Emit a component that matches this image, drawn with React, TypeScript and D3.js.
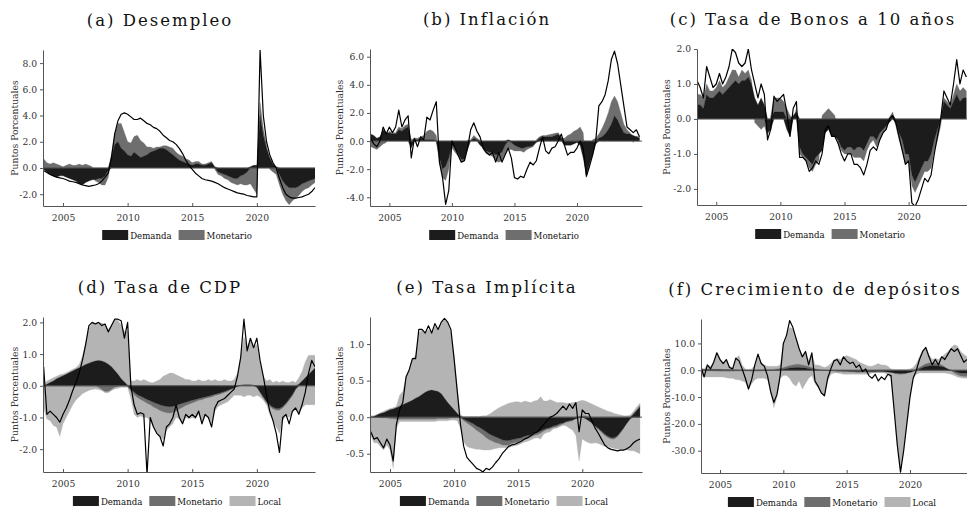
import { useEffect, useRef } from 'react';
import * as d3 from 'd3';

const WIDTH = 967;
const HEIGHT = 511;
const START = 2003.5; // first observation (quarterly)
const STEP = 0.25;
const SERIF = "'DejaVu Serif', 'Liberation Serif', serif";

const LEGEND_2 = ['Demanda', 'Monetario'];
const LEGEND_3 = ['Demanda', 'Monetario', 'Local'];
const YEAR_TICKS = [2005, 2010, 2015, 2020];
const Y_LABEL = 'Puntos Porcentuales';

// (a) Desempleo
const demA = [
  -0.1, -0.3, -0.5, -0.6, -0.7, -0.6, -0.6, -0.7, -0.8, -0.9,
  -1.0, -1.2, -1.3, -1.1, -1.0, -0.9, -0.9, -0.8, -0.8, -0.6,
  -0.2, 0.8, 1.8, 2.0, 1.5, 1.3, 1.0, 0.9, 1.2, 1.0,
  0.8, 0.9, 1.0, 1.2, 1.3, 1.4, 1.5, 1.5, 1.4, 1.2,
  1.0, 0.8, 0.6, 0.5, 0.4, 0.3, 0.2, 0.3, 0.3, 0.2,
  0.2, 0.3, 0.4, 0.1, -0.3, -0.4, -0.5, -0.6, -0.7, -0.8,
  -0.8, -0.6, -0.5, -0.3, 0.1, 0.2, 0.2, 4.0, 2.5, 1.5,
  0.8, 0.3, 0.1, -0.5, -1.0, -1.3, -1.5, -1.5, -1.5, -1.4,
  -1.2, -1.1, -1.0, -0.9, -0.8,
];
const monA = [
  0.7, 0.4, 0.3, 0.4, 0.3, 0.2, 0.1, 0.2, 0.3, 0.2,
  0.2, 0.3, 0.2, 0.3, 0.2, 0.1, -0.1, -0.3, -0.5, -0.7,
  -0.5, 0.3, 0.8, 1.4, 1.9, 1.4, 1.0, 1.0, 1.2, 1.5,
  1.3, 1.0, 0.6, 0.4, 0.2, 0.2, 0.1, 0.2, 0.3, 0.4,
  0.5, 0.4, 0.4, 0.4, 0.3, 0.3, 0.2, 0.2, 0.2, 0.1,
  0.1, 0.1, 0.1, -0.1, -0.2, -0.2, -0.3, -0.3, -0.4, -0.4,
  -0.5, -0.6, -0.8, -1.0, -1.2, -1.6, -2.0, 1.0, 0.5, 0.2,
  -0.1, -0.3, -0.5, -0.8, -1.0, -1.2, -1.3, -1.0, -0.8, -0.7,
  -0.6, -0.5, -0.5, -0.4, -0.3,
];
const lineA = [
  -0.2, -0.35, -0.5, -0.6, -0.7, -0.75, -0.8, -0.9, -1.0, -1.05,
  -1.1, -1.2, -1.3, -1.35, -1.4, -1.35, -1.3, -1.2, -1.0, -0.7,
  -0.4, 0.8, 2.6, 3.6, 4.1, 4.2, 4.1, 3.9, 3.7, 3.7,
  3.8, 3.6, 3.4, 3.3, 3.1, 3.0, 2.8, 2.5, 2.3, 2.1,
  2.0, 1.8, 1.5, 1.1, 0.6, 0.2, -0.1, -0.4, -0.6, -0.8,
  -0.9, -0.95, -1.0, -1.1, -1.2, -1.35, -1.5, -1.6, -1.7, -1.8,
  -1.9, -1.95, -2.0, -2.1, -2.15, -2.2, -2.2, 9.0, 4.0, 2.0,
  1.0, 0.4, 0.0, -0.8, -1.5, -2.0, -2.2, -2.3, -2.3, -2.25,
  -2.2, -2.1, -2.0, -1.8, -1.5,
];

// (b) Inflación
const demB = [
  0.5, 0.4, 0.2, 0.3, 0.8, 0.6, 0.6, 0.5, 0.5, 0.8,
  0.7, 0.9, 1.0, -0.5, 0.1, 0.1, 0.2, 0.1, 0.1, 0.1,
  0.1, 0.0, -1.2, -2.0, -1.8, -1.2, -0.3, -0.5, -0.9, -1.3,
  -1.3, -0.6, 0.0, 0.2, 0.1, -0.3, -0.5, -0.7, -0.8, -0.8,
  -1.0, -0.9, -0.8, -0.3, 0.1, -0.1, -0.3, -0.4, -0.5, -0.5,
  -0.4, -0.4, -0.3, -0.1, 0.2, 0.3, 0.3, 0.3, 0.3, 0.4,
  0.5, 0.2, -0.3, -0.3, -0.3, -0.2, -0.1, -0.3, -1.2, -2.4,
  -1.6, -1.0, -0.2, 0.2, 0.3, 0.5, 0.8, 1.2, 1.8, 1.5,
  1.0, 0.6, 0.5, 0.5, 0.4, 0.3, 0.2,
];
const monB = [
  -0.4, -0.5, -0.6, -0.4, -0.2, -0.1, 0.1, 0.1, 0.1, 0.2,
  0.2, 0.2, 0.2, 0.1, 0.1, 0.1, 0.1, 0.3, 0.6, 0.7,
  0.6, 0.4, -0.3, -0.6, -1.0, -0.8, -0.2, -0.3, -0.2, -0.2,
  -0.1, 0.05, 0.1, 0.2, 0.1, 0.05, -0.1, -0.2, -0.2, -0.3,
  -0.4, -0.6, -0.6, -0.7, -0.6, -0.5, -0.4, -0.3, -0.2, -0.3,
  -0.2, -0.1, -0.1, 0.1, 0.1, 0.1, 0.1, 0.15, 0.2, 0.15,
  0.1, 0.05, 0.2, 0.4, 0.5, 0.7, 0.8, 1.0, 0.6, -0.2,
  -0.2, 0.1, 0.2, 0.3, 0.6, 0.9, 1.2, 1.6, 1.4, 1.3,
  1.0, 0.6, 0.3, 0.1, -0.1, 0.05, 0.1,
];
const lineB = [
  0.2, -0.2, -0.4, 0.0, 1.0, 0.5, 1.0, 0.6, 1.0, 2.2,
  1.0, 1.5, 1.8, -1.2, 0.2, -0.4, 0.3, 0.1, 1.7, 1.5,
  2.2, 2.8, -1.5, -2.6, -4.5, -3.5, 0.0, -0.5, -1.0, -1.5,
  -1.4, -0.5, 0.8, 1.3, 0.7, 0.3, -0.5, -0.8, -1.0, -0.8,
  -1.5, -0.8, -1.5, -1.0, -0.5, -1.2, -2.6, -2.7, -2.5, -2.6,
  -2.0, -1.5, -1.7, -1.4, -0.5, 0.3, -0.7, -0.9, -0.5, -0.4,
  0.0, 0.5, -0.3, -1.0, -0.8, -0.8, -0.5, 0.0, -0.5, -2.5,
  -1.8, -1.0, 0.0, 2.5, 2.8, 3.3, 4.3, 5.8, 6.4, 5.5,
  4.0, 2.5, 1.0, 0.8, 0.6, 0.8, 0.3,
];

// (c) Tasa de Bonos a 10 años
const demC = [
  0.4, 0.4, 0.3, 0.7, 0.6, 0.6, 0.7, 0.8, 0.7, 0.8,
  0.9, 1.0, 1.1, 1.0, 1.1, 1.1, 1.2, 1.0, 0.6, 0.4,
  0.6, 0.4, -0.4, -0.3, 0.2, 0.2, 0.2, 0.2, -0.3, -0.5,
  0.1, 0.2, -0.8, -1.0, -1.1, -1.2, -1.3, -1.1, -1.0, -0.9,
  -0.4, -0.3, -0.5, -0.5, -0.6, -0.8, -0.9, -0.8, -0.8, -0.9,
  -0.8, -0.8, -0.9, -0.7, -0.5, -0.5, -0.6, -0.4, -0.3, -0.2,
  -0.1, 0.1, -0.1, -0.4, -0.6, -1.0, -1.0, -1.6, -1.8, -1.6,
  -1.4, -1.2, -1.2, -1.0, -0.6, -0.3, 0.0, 0.5, 0.4, 0.3,
  0.5, 0.7, 0.5, 0.6, 0.6,
];
const monC = [
  0.3, 0.3, 0.3, 0.3, 0.2, 0.2, 0.2, 0.3, 0.2, 0.2,
  0.3, 0.4, 0.3, 0.2, 0.3, 0.2, 0.2, 0.1, -0.1, -0.2,
  -0.3, -0.2, -0.1, 0.1, 0.4, 0.4, 0.4, 0.3, 0.3, 0.1,
  0.0, 0.1, -0.2, -0.1, -0.1, -0.2, -0.2, -0.2, -0.2, 0.1,
  0.2, 0.3, 0.2, 0.1, -0.1, -0.1, -0.1, -0.2, -0.2, -0.2,
  -0.3, -0.3, -0.3, -0.2, -0.2, -0.1, -0.2, -0.2, -0.1, -0.1,
  0.05, 0.1, -0.1, -0.2, -0.3, -0.3, -0.2, -0.3, -0.3, -0.3,
  -0.3, -0.3, -0.3, -0.4, -0.3, -0.3, -0.2, 0.1, 0.1, 0.1,
  0.2, 0.3, 0.3, 0.3, 0.2,
];
const lineC = [
  1.1, 0.9, 0.6, 1.5, 1.2, 0.9, 1.0, 1.3, 1.0, 1.2,
  1.5, 2.0, 1.9, 1.6, 1.5, 1.6, 2.0, 1.4, 1.0, 0.6,
  1.0, 0.7, -0.6, -0.3, 0.65, 0.5, 0.6, 0.7, 0.2, -0.5,
  0.3, 0.5, -1.1, -1.1, -1.2, -1.5, -1.4, -1.2, -1.3, -1.0,
  -0.3, -0.2, -0.5, -0.5, -0.7, -1.0, -1.2, -1.0, -1.0, -1.3,
  -1.3, -1.4, -1.6, -1.3, -0.9, -0.8, -0.9, -0.6, -0.4, -0.3,
  0.0, 0.1, -0.1, -0.5, -0.9, -1.3, -1.2, -2.4, -2.5, -2.3,
  -2.0, -1.7, -1.8, -1.6, -1.0, -0.5, 0.0, 0.8, 0.6, 0.4,
  1.0, 1.7, 1.0, 1.4, 1.2,
];

// (d) Tasa de CDP
const demD = [
  0.0, 0.05, 0.1, 0.15, 0.22, 0.27, 0.32, 0.36, 0.42, 0.47,
  0.52, 0.57, 0.62, 0.67, 0.71, 0.75, 0.78, 0.8, 0.78, 0.74,
  0.68, 0.6, 0.48, 0.36, 0.22, 0.12, 0.02, -0.12, -0.2, -0.28,
  -0.33, -0.38, -0.43, -0.47, -0.52, -0.56, -0.6, -0.63, -0.65, -0.66,
  -0.65, -0.62, -0.58, -0.55, -0.52, -0.49, -0.46, -0.43, -0.4, -0.38,
  -0.35, -0.33, -0.3, -0.27, -0.24, -0.21, -0.18, -0.14, -0.1, -0.06,
  -0.02, 0.01, 0.02, 0.02, 0.02, 0.01, -0.05, -0.2, -0.35, -0.5,
  -0.6, -0.68, -0.72, -0.72, -0.65, -0.55, -0.42, -0.28, -0.1, 0.05,
  0.15, 0.25, 0.35, 0.45, 0.55,
];
const monD = [
  0, 0, 0, 0, 0, 0, 0, 0, 0, 0,
  0, 0, 0, 0, 0, 0, 0, -0.05, -0.12, -0.18,
  -0.18, -0.12, -0.05, -0.02, 0, 0, -0.02, -0.05, -0.08, -0.09,
  -0.1, -0.11, -0.12, -0.13, -0.15, -0.16, -0.18, -0.19, -0.2, -0.2,
  -0.2, -0.18, -0.15, -0.13, -0.1, -0.09, -0.08, -0.07, -0.06, -0.06,
  -0.05, -0.05, -0.05, -0.04, -0.04, -0.04, -0.03, -0.03, -0.02, -0.02,
  0, 0.01, 0.02, 0.02, 0.02, 0.01, 0, -0.02, -0.03, -0.04,
  -0.05, -0.05, -0.05, -0.05, -0.05, -0.04, -0.04, -0.03, -0.02, 0,
  0, 0.01, 0.01, 0.01, 0.01,
];
const locUpD = [
  0.05, 0.1, 0.1, 0.1, 0.08, 0.08, 0.05, 0.05, 0.05, 0.05,
  0.05, 0.1, 0.3, 0.7, 1.1, 1.25, 1.2, 1.2, 1.2, 1.2,
  1.1, 1.3, 1.6, 1.7, 1.7, 1.6, 1.7, 0.15, 0.15, 0.2,
  0.15, 0.2, 0.15, 0.1, 0.1, 0.15, 0.2, 0.3, 0.35, 0.4,
  0.4, 0.35, 0.3, 0.25, 0.2, 0.2, 0.15, 0.15, 0.2, 0.15,
  0.15, 0.2, 0.15, 0.2, 0.15, 0.15, 0.2, 0.15, 0.15, 0.2,
  0.4, 0.9, 1.5, 1.2, 1.4, 1.2, 1.3, 0.7, 0.3, 0.15,
  0.2, 0.1, 0.15, 0.1, 0.15, 0.1, 0.1, 0.15, 0.1, 0.2,
  0.3, 0.5, 0.6, 0.5, 0.4,
];
const locDnD = [
  -0.7, -1.05, -1.1, -1.25, -1.3, -1.6, -1.2, -1.0, -0.8, -0.6,
  -0.45, -0.35, -0.25, -0.2, -0.15, -0.12, -0.1, -0.07, -0.03, -0.04,
  -0.04, -0.03, -0.05, -0.06, -0.05, -0.05, -0.03, -0.23, -0.62, -0.63,
  -0.52, -0.51, -0.45, -0.5, -0.63, -0.78, -0.82, -0.88, -0.55, -0.44,
  -0.35, -0.2, -0.32, -0.52, -0.38, -0.47, -0.46, -0.55, -0.44, -0.71,
  -0.55, -0.62, -0.85, -0.49, -0.37, -0.35, -0.34, -0.33, -0.28, -0.22,
  -0.28, -0.3, -0.35, -0.3, -0.3, -0.35, -0.25, -0.13, -0.07, -0.06,
  -0.25, -0.37, -0.53, -0.73, -0.4, -0.36, -0.54, -0.54, -0.63, -0.85,
  -0.7, -0.6, -0.6, -0.6, -0.6,
];
const lineD = [
  0.6, -0.9, -0.8, -0.9, -1.0, -1.15, -0.9, -0.7, -0.45, -0.15,
  0.1, 0.4, 0.8, 1.3, 1.9, 2.0, 1.95, 2.0, 1.9, 1.95,
  1.7, 1.9, 2.1, 2.1, 2.05, 1.5, 2.0, 0.0, -0.6, -0.9,
  -0.85, -0.9, -2.8, -1.0, -1.3, -1.5, -1.6, -1.9, -1.3, -1.2,
  -1.0, -0.6, -1.0, -1.2, -0.9, -1.0, -0.9, -1.0, -0.8, -1.2,
  -0.9, -1.0, -1.3, -0.7, -0.5, -0.45, -0.4, -0.3, -0.2, -0.1,
  0.3, 0.9, 2.1, 1.1, 1.5, 1.2, 1.5, 0.8, 0.3, -0.3,
  -0.8, -1.1, -1.5, -2.1, -1.0, -0.9, -1.2, -0.8, -0.7, -0.9,
  -0.6, -0.2, 0.4, 0.8, 0.6,
];

// (e) Tasa Implícita
const demE = [
  0.0, 0.01, 0.03, 0.05, 0.06, 0.08, 0.1, 0.11, 0.13, 0.15,
  0.17, 0.19, 0.21, 0.23, 0.26, 0.28, 0.31, 0.34, 0.36, 0.37,
  0.36, 0.35, 0.32, 0.26, 0.2, 0.15, 0.1, 0.05, 0.01, -0.03,
  -0.05, -0.07, -0.09, -0.12, -0.14, -0.17, -0.2, -0.23, -0.25, -0.27,
  -0.29, -0.31, -0.32, -0.32, -0.31, -0.3, -0.29, -0.28, -0.26, -0.25,
  -0.24, -0.22, -0.21, -0.19, -0.17, -0.15, -0.14, -0.12, -0.11, -0.09,
  -0.08, -0.06, -0.05, -0.04, -0.02, -0.01, 0.0, -0.02, -0.05, -0.08,
  -0.12, -0.15, -0.19, -0.23, -0.26, -0.28, -0.28, -0.25, -0.2, -0.14,
  -0.08, -0.02, 0.04, 0.09, 0.14,
];
const monE = [
  0, 0, 0, -0.01, -0.01, -0.01, -0.02, -0.02, -0.03, -0.03,
  -0.03, -0.03, -0.03, -0.03, -0.03, -0.03, -0.03, -0.03, -0.03, -0.03,
  -0.03, -0.02, -0.02, -0.02, -0.02, -0.01, -0.01, -0.01, -0.01, -0.02,
  -0.03, -0.04, -0.05, -0.06, -0.07, -0.07, -0.08, -0.08, -0.08, -0.08,
  -0.07, -0.07, -0.06, -0.06, -0.05, -0.05, -0.05, -0.04, -0.04, -0.04,
  -0.03, -0.03, -0.03, -0.03, -0.02, -0.02, -0.02, -0.02, -0.02, -0.02,
  -0.01, -0.01, -0.01, -0.01, 0, 0.01, 0.02, 0.02, 0.01, -0.01,
  -0.01, -0.02, -0.02, -0.02, -0.02, -0.02, -0.02, -0.02, -0.01, -0.01,
  0, 0, 0.01, 0.01, 0.02,
];
const locUpE = [
  0.02, 0.01, 0.01, 0.01, 0.02, 0.02, 0.02, 0.02, 0.02, 0.15,
  0.18, 0.36, 0.44, 0.57, 0.59, 0.87, 0.89, 0.81, 0.84, 0.78,
  0.89, 0.85, 0.98, 1.07, 1.1, 1.0, 0.75, 0.35, 0.02, 0.01,
  0.01, 0.01, 0.01, 0.01, 0.01, 0.02, 0.02, 0.04, 0.07, 0.1,
  0.13, 0.15, 0.17, 0.19, 0.2, 0.21, 0.21, 0.2, 0.22, 0.21,
  0.2, 0.22, 0.23, 0.28, 0.22, 0.22, 0.24, 0.22, 0.2, 0.2,
  0.2, 0.19, 0.19, 0.2, 0.2, 0.21, 0.21, 0.2, 0.19, 0.18,
  0.16, 0.14, 0.12, 0.1, 0.08, 0.07, 0.05, 0.04, 0.03, 0.02,
  0.02, 0.03, 0.03, 0.04, 0.03,
];
const locDnE = [
  -0.25, -0.35, -0.35, -0.39, -0.44, -0.37, -0.43, -0.68, -0.12, -0.03,
  -0.03, -0.03, -0.03, -0.03, -0.03, -0.03, -0.03, -0.03, -0.03, -0.03,
  -0.03, -0.03, -0.03, -0.03, -0.03, -0.03, -0.03, -0.04, -0.14, -0.29,
  -0.32, -0.31, -0.29, -0.26, -0.23, -0.21, -0.17, -0.14, -0.11, -0.08,
  -0.06, -0.04, -0.04, -0.04, -0.04, -0.04, -0.04, -0.04, -0.04, -0.04,
  -0.04, -0.04, -0.04, -0.08, -0.04, -0.04, -0.04, -0.02, -0.02, -0.02,
  -0.02, -0.05, -0.09, -0.13, -0.23, -0.59, -0.3, -0.31, -0.3, -0.27,
  -0.22, -0.19, -0.17, -0.15, -0.12, -0.12, -0.13, -0.17, -0.24, -0.3,
  -0.37, -0.44, -0.46, -0.48, -0.5,
];
const lineE = [
  -0.2, -0.3, -0.28, -0.35, -0.42, -0.3, -0.38, -0.6, -0.1, 0.1,
  0.2, 0.55, 0.65, 0.8, 0.8, 1.2, 1.2, 1.15, 1.25, 1.15,
  1.28, 1.2, 1.3, 1.35, 1.3, 1.2, 0.8, 0.35, -0.1, -0.4,
  -0.55, -0.6, -0.65, -0.7, -0.72, -0.75, -0.7, -0.72, -0.68, -0.62,
  -0.57, -0.5, -0.45, -0.4, -0.38, -0.37, -0.35, -0.33, -0.3, -0.28,
  -0.25, -0.22, -0.2, -0.15, -0.1, -0.05, 0.0, 0.02, 0.05, 0.1,
  0.15, 0.1, 0.18, 0.12, 0.2, -0.2, 0.1, 0.05, 0.05, -0.05,
  -0.15, -0.22, -0.3, -0.38, -0.42, -0.44, -0.45, -0.46, -0.45, -0.45,
  -0.43, -0.4, -0.35, -0.32, -0.3,
];

// (f) Crecimiento de depósitos
const demF = [
  0.2, 0.2, 0.3, 0.3, 0.3, 0.3, 0.3, 0.2, 0.2, 0.2,
  0.1, 0.1, 0.0, 0.0, -0.1, -0.1, -0.2, -0.2, -0.2, -0.2,
  -0.1, -0.1, -0.1, 0.0, 0.1, 0.2, 0.4, 0.6, 0.8, 0.9,
  1.0, 1.0, 0.9, 0.8, 0.6, 0.4, 0.2, 0.1, 0.0, -0.1,
  -0.1, -0.1, -0.1, -0.2, -0.2, -0.3, -0.3, -0.4, -0.4, -0.5,
  -0.5, -0.5, -0.5, -0.5, -0.5, -0.5, -0.5, -0.5, -0.6, -0.7,
  -0.8, -1.0, -1.1, -1.2, -1.1, -1.0, -0.8, -0.5, 0.0, 0.5,
  1.0, 1.4, 1.6, 1.7, 1.7, 1.6, 1.4, 1.0, 0.5, 0.0,
  -0.4, -0.8, -1.0, -1.1, -1.1,
];
const monF = [
  -0.2, -0.2, -0.3, -0.3, -0.3, -0.4, -0.4, -0.4, -0.4, -0.4,
  -0.4, -0.3, -0.3, -0.3, -0.2, -0.2, -0.1, 0.0, 0.1, 0.2,
  0.3, 0.3, 0.3, 0.3, 0.4, 0.5, 0.6, 0.8, 1.0, 1.1,
  1.2, 1.2, 1.1, 1.0, 0.8, 0.6, 0.4, 0.2, 0.1, 0.0,
  -0.1, -0.2, -0.2, -0.3, -0.3, -0.3, -0.3, -0.3, -0.3, -0.3,
  -0.3, -0.2, -0.2, -0.2, -0.1, -0.1, 0.0, 0.0, 0.1, 0.1,
  0.0, -0.2, -0.3, -0.4, -0.3, -0.2, 0.0, 0.2, 0.4, 0.6,
  0.8, 1.0, 1.1, 1.1, 1.0, 0.9, 0.6, 0.3, 0.0, -0.3,
  -0.6, -0.9, -1.1, -1.2, -1.2,
];
const locUpF = [
  0.8, 0.3, 1.7, 1.2, 2.7, 6.2, 4.2, 2.8, 3.8, 1.3,
  0.9, 4.4, 5.5, 2.0, 0.5, 0.3, 0.5, 2.0, 5.9, 2.8,
  1.7, 1.2, 1.2, 1.2, 1.0, 1.3, 8.5, 11.6, 14.2, 13.5,
  9.8, 5.8, 3.5, 5.2, 2.1, 5.5, 1.4, 1.7, 1.4, 1.0,
  1.5, 2.5, 4.0, 4.5, 4.0, 5.0, 5.5, 5.0, 4.5, 4.0,
  3.0, 2.5, 2.0, 1.5, 1.5, 2.0, 2.5, 2.0, 1.9, 1.4,
  0.5, 0.3, 0.3, 0.3, 0.3, 0.3, 0.5, 0.8, 2.1, 3.9,
  5.7, 6.1, 3.3, 1.2, 1.8, 1.5, 3.0, 4.7, 6.5, 8.5,
  9.5, 9.0, 7.0, 6.0, 5.0,
];
const locDnF = [
  -1.8, -2.4, -2.2, -2.2, -2.2, -2.1, -2.1, -2.1, -2.4, -2.6,
  -2.6, -3.2, -3.2, -3.7, -4.2, -6.7, -4.7, -3.3, -2.8, -2.8,
  -2.9, -3.4, -7.9, -14.0, -10.0, -3.0, -2.0, -2.0, -3.0, -5.0,
  -6.0, -4.0, -7.0, -5.0, -3.0, -2.0, -5.0, -6.5, -8.5, -9.9,
  -3.8, -1.2, -0.7, -0.5, -0.7, -0.9, -0.9, -0.8, -0.8, -0.7,
  -0.7, -0.8, -0.8, -0.8, -0.4, -0.4, -0.5, -0.5, -0.4, -0.8,
  -2.2, -13.8, -26.6, -36.4, -28.6, -18.8, -9.2, -2.5, -1.5, -1.0,
  -1.0, -1.0, -1.0, -1.0, -1.0, -1.0, -1.0, -1.0, -1.2, -1.2,
  -1.0, -0.8, -0.7, -0.7, -0.7,
];
const lineF = [
  1.1, -2.5, 2.0, 0.5, 3.0, 6.5, 4.0, 2.5, 4.0, 1.0,
  0.5, 4.5, 3.5, 0.5, -3.0, -7.0, -3.5, 2.0, 6.0, 2.5,
  1.5, -2.0, -8.0, -12.0, -9.0, -2.0, 10.0, 13.0, 18.5, 16.0,
  12.0, 8.0, 5.0, 7.0, 2.0, 6.5, -4.0, -6.0, -8.5, -9.5,
  -3.0, 0.5, 3.5, 4.0, 2.0, 5.0, 3.5, 2.5, 3.0, 1.0,
  2.0, -0.5, 0.5, -2.0, -3.0, -1.5, -4.0, -2.5, -3.5, -1.5,
  -2.0, -15.0, -28.0, -38.0, -30.0, -20.0, -10.0, -3.0, 0.0, 4.0,
  7.0, 8.5, 5.0, 2.0, 4.0, 2.0, 5.0, 4.0, 6.0, 8.0,
  7.0, 8.0, 5.5, 3.0, 4.0,
];

const yTicksA = [-2, 0, 2, 4, 6, 8];
const yTicksB = [-4, -2, 0, 2, 4, 6];
const yTicksC = [-2, -1, 0, 1, 2];
const yTicksD = [-2, -1, 0, 1, 2];
const yTicksE = [-0.5, 0, 0.5, 1];
const yTicksF = [-30, -20, -10, 0, 10];

const COLORS: Record<string, string> = {
  dem: '#1c1c1c',
  mon: '#6e6e6e',
  locUp: '#b4b4b4',
  locDn: '#b4b4b4',
};
const LEGEND_COLORS = ['#1c1c1c', '#6e6e6e', '#b4b4b4'];

interface Panel {
  title: string;
  box: { left: number; right: number; top: number; bottom: number };
  labelGap: number;
  xDomain: [number, number];
  yDomain: [number, number];
  yTicks: number[];
  series: Record<string, number[]>;
  line: number[];
  legend: string[];
}

const panels: Panel[] = [
  {
    title: '(a) Desempleo',
    box: { left: 43, right: 315, top: 50, bottom: 206 },
    labelGap: 25,
    xDomain: [2003.45, 2024.5],
    yDomain: [-2.9, 9.0],
    yTicks: yTicksA,
    series: { dem: demA, mon: monA },
    line: lineA,
    legend: LEGEND_2,
  },
  {
    title: '(b) Inflación',
    box: { left: 370, right: 642, top: 49, bottom: 206 },
    labelGap: 27,
    xDomain: [2003.45, 2025.2],
    yDomain: [-4.62, 6.55],
    yTicks: yTicksB,
    series: { dem: demB, mon: monB },
    line: lineB,
    legend: LEGEND_2,
  },
  {
    title: '(c) Tasa de Bonos a 10 años',
    box: { left: 697, right: 967, top: 49, bottom: 205 },
    labelGap: 27,
    xDomain: [2003.5, 2024.55],
    yDomain: [-2.46, 2.0],
    yTicks: yTicksC,
    series: { dem: demC, mon: monC },
    line: lineC,
    legend: LEGEND_2,
  },
  {
    title: '(d) Tasa de CDP',
    box: { left: 43, right: 315, top: 317, bottom: 472 },
    labelGap: 25,
    xDomain: [2003.45, 2024.5],
    yDomain: [-2.72, 2.17],
    yTicks: yTicksD,
    series: { dem: demD, mon: monD, locUp: locUpD, locDn: locDnD },
    line: lineD,
    legend: LEGEND_3,
  },
  {
    title: '(e) Tasa Implícita',
    box: { left: 370, right: 642, top: 317, bottom: 472 },
    labelGap: 27,
    xDomain: [2003.44, 2024.66],
    yDomain: [-0.75, 1.37],
    yTicks: yTicksE,
    series: { dem: demE, mon: monE, locUp: locUpE, locDn: locDnE },
    line: lineE,
    legend: LEGEND_3,
  },
  {
    title: '(f) Crecimiento de depósitos',
    box: { left: 701, right: 967, top: 319, bottom: 473 },
    labelGap: 31,
    xDomain: [2003.5, 2024.5],
    yDomain: [-38.3, 19.1],
    yTicks: yTicksF,
    series: { dem: demF, mon: monF, locUp: locUpF, locDn: locDnF },
    line: lineF,
    legend: LEGEND_3,
  },
];

function drawPanel(svg: d3.Selection<SVGSVGElement, unknown, null, undefined>, p: Panel, idx: number) {
  const { left, right, top, bottom } = p.box;
  const x = d3.scaleLinear().domain(p.xDomain).range([left, right]);
  const y = d3.scaleLinear().domain(p.yDomain).range([bottom, top]);

  const keys = Object.keys(p.series);
  const rows = p.line.map((_, i) => {
    const r: any = { t: START + i * STEP };
    keys.forEach((k) => (r[k] = p.series[k][i] ?? 0));
    return r;
  });
  const stacked = d3.stack<any>().keys(keys).offset(d3.stackOffsetDiverging)(rows);

  const clipId = `plot-clip-${idx}`;
  svg
    .append('clipPath')
    .attr('id', clipId)
    .append('rect')
    .attr('x', left)
    .attr('y', top)
    .attr('width', right - left)
    .attr('height', bottom - top);

  const g = svg.append('g').attr('clip-path', `url(#${clipId})`);

  const area = d3
    .area<any>()
    .x((d) => x(d.data.t))
    .y0((d) => y(d[0]))
    .y1((d) => y(d[1]));

  // light layers first so the dark ones sit on top
  g.selectAll('.layer')
    .data([...stacked].reverse())
    .enter()
    .append('path')
    .attr('class', 'layer')
    .attr('fill', (s) => COLORS[s.key])
    .attr('stroke', (s) => COLORS[s.key])
    .attr('stroke-width', 0.3)
    .attr('d', area);

  // zero line
  g.append('line')
    .attr('x1', left)
    .attr('x2', right)
    .attr('y1', y(0))
    .attr('y2', y(0))
    .attr('stroke', '#555')
    .attr('stroke-width', 1);

  const line = d3
    .line<number>()
    .x((_, i) => x(START + i * STEP))
    .y((v) => y(v));

  g.append('path')
    .datum(p.line)
    .attr('fill', 'none')
    .attr('stroke', '#000')
    .attr('stroke-width', 1.2)
    .attr('stroke-linejoin', 'round')
    .attr('d', line);

  // Axes
  const yAxis = svg
    .append('g')
    .attr('transform', `translate(${left},0)`)
    .call(
      d3
        .axisLeft(y)
        .tickValues(p.yTicks)
        .tickFormat((d) => (+d).toFixed(1))
        .tickSize(3)
        .tickSizeOuter(0)
        .tickPadding(3)
    );
  const xAxis = svg
    .append('g')
    .attr('transform', `translate(0,${bottom})`)
    .call(
      d3
        .axisBottom(x)
        .tickValues(YEAR_TICKS)
        .tickFormat(d3.format('d'))
        .tickSize(-3)
        .tickSizeOuter(0)
        .tickPadding(8)
    );
  [yAxis, xAxis].forEach((a) => {
    a.attr('font-family', null).attr('font-size', null);
    a.select('.domain').attr('stroke', '#555');
    a.selectAll('.tick line').attr('stroke', '#555');
    a.selectAll('.tick text')
      .attr('fill', '#333')
      .style('font-family', SERIF)
      .style('font-size', '9.2px');
  });

  // Title
  svg
    .append('text')
    .attr('x', (left + right) / 2 - 19)
    .attr('y', top - 24)
    .attr('text-anchor', 'middle')
    .style('font-family', SERIF)
    .style('font-size', '16.5px')
    .style('letter-spacing', '2px')
    .attr('fill', '#111')
    .text(p.title);

  // Y label
  svg
    .append('text')
    .attr('transform', `translate(${left - p.labelGap},${(top + bottom) / 2}) rotate(-90)`)
    .attr('text-anchor', 'middle')
    .style('font-family', SERIF)
    .style('font-size', '9.2px')
    .attr('fill', '#333')
    .text(Y_LABEL);

  // Legend
  const lg = svg.append('g');
  let cursor = 0;
  p.legend.forEach((name, i) => {
    const item = lg.append('g').attr('transform', `translate(${cursor},0)`);
    item.append('rect').attr('width', 26).attr('height', 10).attr('fill', LEGEND_COLORS[i]);
    const txt = item
      .append('text')
      .attr('x', 28)
      .attr('y', 8.5)
      .style('font-family', SERIF)
      .style('font-size', '8.6px')
      .attr('fill', '#111')
      .text(name);
    const w = 28 + (txt.node() as SVGTextElement).getComputedTextLength();
    cursor += w + 7;
  });
  const total = cursor - 7;
  lg.attr('transform', `translate(${(left + right) / 2 - 2 - total / 2},${bottom + 24})`);
}

export default function App() {
  const svgRef = useRef<SVGSVGElement>(null);

  useEffect(() => {
    if (!svgRef.current) return;
    const svg = d3.select(svgRef.current);
    svg.selectAll('*').remove();
    panels.forEach((p, i) => drawPanel(svg, p, i));
  }, []);

  return (
    <svg
      ref={svgRef}
      width={WIDTH}
      height={HEIGHT}
      style={{ position: 'absolute', left: 0, top: 0, background: '#fff', fontFamily: SERIF }}
    />
  );
}
